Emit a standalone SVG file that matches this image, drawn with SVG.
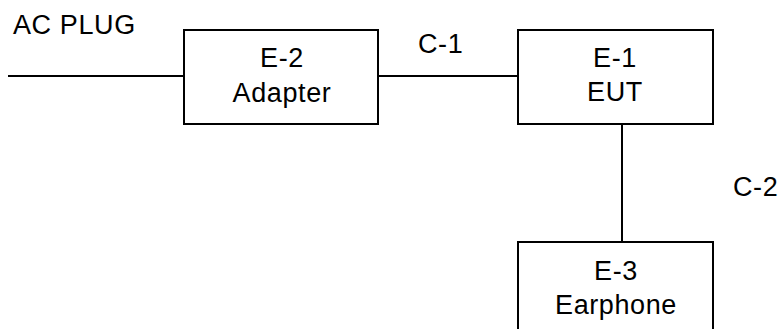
<svg xmlns="http://www.w3.org/2000/svg" width="780" height="329" viewBox="0 0 780 329">
<style>
.box{fill:#fff;stroke:#000;stroke-width:2}
.ln{stroke:#000;stroke-width:2;fill:none}
text{font-family:"Liberation Sans",Arial,sans-serif;font-size:27px;letter-spacing:0.6px;fill:#000}
.c{text-anchor:middle}
</style>
<rect width="780" height="329" fill="#fff"/>
<g id="connectors">
<line class="ln" x1="8" y1="76" x2="184" y2="76"/>
<line class="ln" x1="378" y1="76" x2="518" y2="76"/>
<line class="ln" x1="622" y1="124" x2="622" y2="242"/>
<text x="13" y="34">AC PLUG</text>
<text x="418" y="53">C-1</text>
<text x="733" y="196">C-2</text>
</g>
<g id="E-2">
<rect class="box" x="184" y="30" width="194" height="94"/>
<text class="c" x="282" y="67">E-2</text>
<text class="c" x="282" y="102">Adapter</text>
</g>
<g id="E-1">
<rect class="box" x="518" y="30" width="195" height="94"/>
<text class="c" x="615" y="67">E-1</text>
<text class="c" x="615" y="101">EUT</text>
</g>
<g id="E-3">
<rect class="box" x="518" y="242" width="195" height="100"/>
<text class="c" x="616" y="280">E-3</text>
<text class="c" x="616" y="314">Earphone</text>
</g>
</svg>
